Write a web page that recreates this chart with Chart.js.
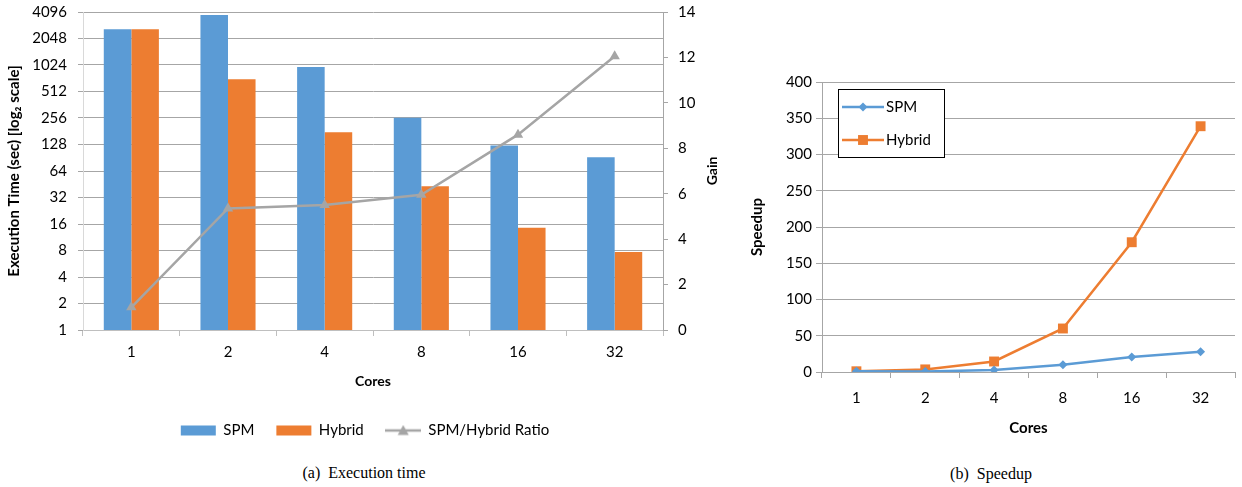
<!DOCTYPE html>
<html>
<head>
<meta charset="utf-8">
<script src="https://cdn.jsdelivr.net/npm/chart.js@4/dist/chart.umd.min.js"></script>
<style>
    body { margin: 0; background: #fff; width: 1242px; height: 487px; overflow: hidden; position: relative; }
    .box { position: absolute; }
    #boxA { left: 0; top: 0; width: 730px; height: 448px; }
    #boxB { left: 735px; top: 0; width: 507px; height: 445px; }
    .cap { position: absolute; font-family: "Liberation Serif", serif; font-size: 16px; color: #000;
           transform: translateX(-50%); white-space: pre; }
</style>
</head>
<body>
<div class="box" id="boxA"><canvas id="timeChart"></canvas></div>
<div class="box" id="boxB"><canvas id="speedChart"></canvas></div>
<div class="cap" style="left:364px; top:464px">(a)  Execution time</div>
<div class="cap" style="left:991px; top:465px">(b)  Speedup</div>
<script>
const cores = ['1', '2', '4', '8', '16', '32'];
const spmTime = [2610, 3790, 970, 258, 125, 92];
const hybridTime = [2610, 704, 176, 43, 14.5, 7.7];
const ratio = [1, 5.35, 5.5, 5.95, 8.6, 12.05];
const spmSpeedup = [1, 0.7, 2.7, 10, 20.7, 28];
const hybridSpeedup = [1, 3.6, 14.5, 60, 179, 339];
const log2Ticks = [1, 2, 4, 8, 16, 32, 64, 128, 256, 512, 1024, 2048, 4096];

const BLUE = '#5b9bd5';
const ORANGE = '#ed7d31';
const GREY = '#a5a5a5';
const GRID = '#a6a6a6';
const AXIS = '#bfbfbf';
const FONT = 'Lato';

Chart.defaults.font.family = FONT;
Chart.defaults.color = '#000';

// legend swatch: grey line with a triangle on it
function ratioSwatch() {
    const c = document.createElement('canvas');
    c.width = 36;
    c.height = 12;
    const g = c.getContext('2d');
    g.strokeStyle = GREY;
    g.lineWidth = 2.5;
    g.beginPath();
    g.moveTo(0, 6);
    g.lineTo(36, 6);
    g.stroke();
    g.fillStyle = GREY;
    g.beginPath();
    g.moveTo(18, 0.5);
    g.lineTo(23.5, 10.5);
    g.lineTo(12.5, 10.5);
    g.closePath();
    g.fill();
    return c;
}

// "Gain" reads bottom-to-top, Chart.js would rotate it the other way
const gainTitle = {
    id: 'gainTitle',
    afterDraw(chart) {
        const { ctx, chartArea } = chart;
        ctx.save();
        ctx.translate(712, (chartArea.top + chartArea.bottom) / 2);
        ctx.rotate(-Math.PI / 2);
        ctx.font = 'bold 14px ' + FONT;
        ctx.fillStyle = '#000';
        ctx.textAlign = 'center';
        ctx.textBaseline = 'middle';
        ctx.fillText('Gain', 0, 0);
        ctx.restore();
    },
};

new Chart(document.getElementById('timeChart'), {
    data: {
        labels: cores,
        datasets: [
            { type: 'bar', label: 'SPM', data: spmTime, backgroundColor: BLUE, borderWidth: 0,
              yAxisID: 'y', order: 1, categoryPercentage: 0.57, barPercentage: 1.0 },
            { type: 'bar', label: 'Hybrid', data: hybridTime, backgroundColor: ORANGE, borderWidth: 0,
              yAxisID: 'y', order: 1, categoryPercentage: 0.57, barPercentage: 1.0 },
            { type: 'line', label: 'SPM/Hybrid Ratio', data: ratio, borderColor: GREY, backgroundColor: GREY,
              borderWidth: 2.5, pointStyle: 'triangle', pointRadius: 6, pointBorderWidth: 0,
              yAxisID: 'y1', order: 0 },
        ],
    },
    options: {
        responsive: true,
        maintainAspectRatio: false,
        animation: false,
        layout: { padding: { top: 12, right: 0, bottom: 0, left: 0 } },
        plugins: {
            tooltip: { enabled: false },
            legend: {
                position: 'bottom',
                labels: {
                    font: { size: 15 },
                    color: '#000',
                    usePointStyle: true,
                    pointStyleWidth: 35,
                    boxHeight: 10,
                    padding: 22,
                    generateLabels(chart) {
                        const items = Chart.defaults.plugins.legend.labels.generateLabels(chart);
                        items.sort((a, b) => a.datasetIndex - b.datasetIndex);
                        items.forEach((it) => {
                            it.pointStyle = it.datasetIndex === 2 ? ratioSwatch() : 'rect';
                            it.lineWidth = 0;
                        });
                        return items;
                    },
                },
            },
        },
        scales: {
            x: {
                offset: true,
                grid: { drawOnChartArea: false, offset: true, tickLength: 6, color: AXIS },
                border: { color: AXIS },
                ticks: { font: { size: 15 }, padding: 7 },
                title: { display: true, text: 'Cores', font: { size: 14, weight: 'bold' },
                         padding: { top: 0, bottom: 11 } },
                afterFit: (s) => { s.height = 71; },
            },
            y: {
                type: 'logarithmic',
                min: 1,
                max: 4096,
                afterBuildTicks: (s) => { s.ticks = log2Ticks.map((v) => ({ value: v })); },
                ticks: { callback: (v) => String(v), font: { size: 15 }, padding: 11 },
                grid: { color: GRID, tickLength: 5 },
                border: { color: '#d9d9d9' },
                title: { display: true, text: 'Execution Time (sec) [log₂ scale]',
                         font: { size: 15, weight: 'bold' }, padding: { top: 5 } },
                afterFit: (s) => { s.width = 83; s.paddingTop = 0; s.paddingBottom = 0; },
            },
            y1: {
                position: 'right',
                min: 0,
                max: 14,
                ticks: { stepSize: 2, font: { size: 15 }, padding: 10 },
                grid: { drawOnChartArea: false, tickLength: 5, color: GRID },
                border: { color: GRID },
                afterFit: (s) => { s.width = 67; s.paddingTop = 0; s.paddingBottom = 0; },
            },
        },
    },
    plugins: [gainTitle],
});

// boxed legend sitting inside the plot, top left
const insideLegend = {
    id: 'insideLegend',
    afterDraw(chart) {
        const { ctx, chartArea } = chart;
        const x = chartArea.left + 16;
        const y = chartArea.top + 7;
        ctx.save();
        ctx.fillStyle = '#fff';
        ctx.fillRect(x, y, 106, 68);
        ctx.strokeStyle = '#000';
        ctx.lineWidth = 1;
        ctx.strokeRect(x + 0.5, y + 0.5, 106, 68);
        chart.data.datasets.forEach((ds, i) => {
            const cy = y + 18 + i * 33;
            ctx.strokeStyle = ds.borderColor;
            ctx.lineWidth = 2.5;
            ctx.beginPath();
            ctx.moveTo(x + 4, cy);
            ctx.lineTo(x + 46, cy);
            ctx.stroke();
            ctx.fillStyle = ds.borderColor;
            Chart.helpers.drawPoint(ctx, { pointStyle: ds.pointStyle, radius: ds.pointRadius, borderWidth: 0 },
                x + 25, cy);
            ctx.fillStyle = '#000';
            ctx.font = '15px ' + FONT;
            ctx.textAlign = 'left';
            ctx.textBaseline = 'middle';
            ctx.fillText(ds.label, x + 48, cy);
        });
        ctx.restore();
    },
};

new Chart(document.getElementById('speedChart'), {
    type: 'line',
    data: {
        labels: cores,
        datasets: [
            { label: 'SPM', data: spmSpeedup, borderColor: BLUE, backgroundColor: BLUE, borderWidth: 2.5,
              pointStyle: 'rectRot', pointRadius: 4.5, pointBorderWidth: 0 },
            { label: 'Hybrid', data: hybridSpeedup, borderColor: ORANGE, backgroundColor: ORANGE, borderWidth: 2.5,
              pointStyle: 'rect', pointRadius: 7, pointBorderWidth: 0 },
        ],
    },
    options: {
        responsive: true,
        maintainAspectRatio: false,
        animation: false,
        layout: { padding: { top: 82, right: 7, bottom: 0, left: 0 } },
        plugins: {
            legend: { display: false },
            tooltip: { enabled: false },
        },
        scales: {
            x: {
                offset: true,
                grid: { drawOnChartArea: false, offset: true, tickLength: 6, color: GRID },
                border: { color: GRID },
                ticks: { font: { size: 15 }, padding: 11 },
                title: { display: true, text: 'Cores', font: { size: 15, weight: 'bold' },
                         padding: { top: 0, bottom: 8 } },
                afterFit: (s) => { s.height = 73; },
            },
            y: {
                min: 0,
                max: 400,
                ticks: { stepSize: 50, font: { size: 15 }, padding: 4 },
                grid: { color: GRID, tickLength: 6 },
                border: { color: GRID },
                title: { display: true, text: 'Speedup', font: { size: 15, weight: 'bold' },
                         padding: { top: 13 } },
                afterFit: (s) => { s.width = 87; },
            },
        },
    },
    plugins: [insideLegend],
});
</script>
</body>
</html>
